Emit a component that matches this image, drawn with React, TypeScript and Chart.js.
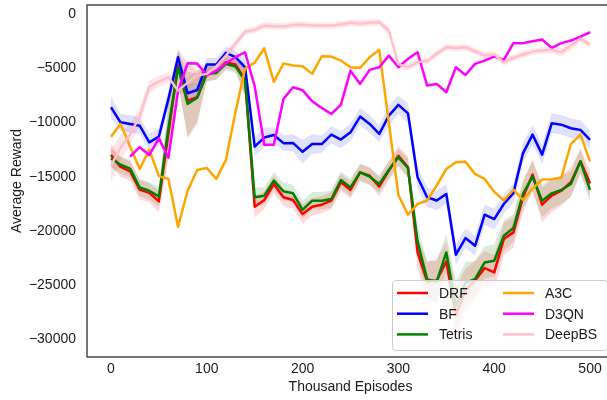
import React, { useEffect, useRef } from "react";
import { Chart, registerables } from "chart.js";

Chart.register(...registerables);

const episodes = [0, 10, 20, 30, 40, 50, 60, 70, 80, 90, 100, 110, 120, 130, 140, 150, 160, 170, 180, 190, 200, 210, 220, 230, 240, 250, 260, 270, 280, 290, 300, 310, 320, 330, 340, 350, 360, 370, 380, 390, 400, 410, 420, 430, 440, 450, 460, 470, 480, 490, 500];

const xTicks = [0, 100, 200, 300, 400, 500];
const yTicks = [0, -5000, -10000, -15000, -20000, -25000, -30000];

const drf = [-13000, -14100, -14500, -16200, -16500, -17280, -11000, -4720, -7960, -7650, -5400, -5300, -4410, -4630, -6000, -17780, -17160, -15680, -16910, -17160, -18460, -17780, -17590, -17220, -15520, -16230, -14600, -14910, -15930, -14440, -13060, -14140, -22000, -24700, -24600, -22850, -27800, -25500, -24600, -23460, -23860, -20770, -20150, -16910, -14810, -17590, -16760, -16300, -15520, -13580, -15620];
const bf = [-8580, -9970, -10120, -10280, -11820, -11300, -7800, -3950, -7280, -6980, -4630, -4630, -3550, -3950, -4880, -12220, -11380, -11150, -11900, -11880, -12700, -11980, -11980, -11110, -11570, -10900, -9440, -10120, -11050, -9350, -8360, -9140, -15060, -16900, -17200, -16600, -22220, -20680, -21390, -18520, -18920, -17530, -16520, -12840, -11110, -12960, -10060, -10190, -10520, -10680, -11600];
const tetris = [-13300, -13900, -14250, -16000, -16300, -16850, -10500, -4880, -8270, -7700, -5500, -5400, -4570, -4810, -6100, -16910, -16760, -15370, -16360, -16540, -18080, -17220, -17220, -17070, -15310, -15990, -14600, -15000, -15680, -14380, -13210, -14200, -21000, -24500, -24700, -22010, -27000, -24800, -24470, -22930, -22780, -20460, -19750, -16600, -15000, -17220, -16540, -16230, -15680, -13580, -16230];
const a3c = [-11300, -10120, -12200, -14290, -12500, -14950, -15210, -19630, -16300, -14380, -14200, -15200, -13450, -9000, -5000, -4450, -3120, -6230, -4540, -4720, -4780, -5490, -3860, -3890, -4260, -4880, -4940, -3950, -3270, -10000, -16700, -18520, -17530, -17200, -15800, -14290, -13670, -13610, -14750, -15210, -16400, -17200, -16200, -17160, -16100, -15260, -15230, -15090, -11980, -11110, -13580];
const d3qn = [null, null, -13150, -12270, -13000, -11460, -13240, -7100, -4510, -4540, -5600, -5220, -4510, -3950, -3490, -6650, -12040, -12040, -7810, -6730, -7000, -8030, -8640, -9200, -8330, -5190, -6420, -5120, -4880, -3800, -4880, -4100, -3490, -6570, -6420, -7190, -4880, -5590, -4570, -4260, -3890, -4200, -2650, -2650, -2470, -2310, -3090, -2650, -2410, -2040, -1640];
const deepbs = [-14000, -12300, -11100, -9400, -6700, -6200, -5800, -7040, -6300, -5650, -5490, -4800, -3800, -2700, -1600, -1420, -1020, -1110, -1110, -960, -930, -1020, -1020, -1020, -930, -770, -860, -770, -710, -1500, -4600, -4880, -4410, -4300, -3640, -3020, -3090, -3030, -3400, -3800, -3700, -4410, -4010, -3700, -3430, -3330, -3270, -3490, -2870, -2250, -2810];

// spread (shaded band half-widths)
const drfStd = [1000, 900, 900, 900, 900, 1000, 2500, 1500, 3500, 2500, 800, 700, 600, 600, 1500, 1000, 800, 800, 800, 800, 900, 800, 800, 800, 800, 800, 800, 800, 900, 900, 900, 1000, 1500, 1800, 2000, 1800, 2500, 2000, 1800, 1600, 1600, 1500, 1400, 1400, 1500, 1600, 1500, 1400, 1300, 1200, 1200];
const bfStd = [1000, 800, 800, 800, 800, 800, 800, 750, 800, 700, 600, 600, 600, 600, 700, 900, 900, 700, 700, 800, 1100, 900, 800, 800, 800, 800, 800, 800, 800, 900, 850, 900, 1000, 900, 900, 900, 950, 900, 900, 950, 950, 900, 900, 900, 900, 900, 900, 900, 900, 900, 900];
const tetrisStd = [900, 800, 800, 800, 800, 900, 2500, 1500, 3000, 2200, 700, 600, 600, 600, 1400, 900, 800, 800, 800, 800, 800, 800, 800, 800, 800, 800, 800, 800, 800, 800, 800, 900, 1400, 1700, 1900, 1700, 2300, 1900, 1700, 1500, 1500, 1400, 1300, 1300, 1400, 1500, 1400, 1300, 1200, 1100, 1100];
const deepbsStd = [1500, 1200, 1000, 800, 600, 500, 500, 500, 500, 500, 400, 400, 400, 400, 300, 300, 300, 300, 300, 300, 300, 300, 300, 300, 300, 300, 300, 300, 300, 400, 400, 300, 300, 300, 300, 300, 300, 300, 300, 300, 300, 300, 300, 300, 300, 300, 300, 400, 400, 300, 300];

const FONT = "'Liberation Sans', Arial, Helvetica, sans-serif";
const TEXT = "#1a1a1a";

const series = [
  { label: "DRF", data: drf, std: drfStd, color: "#ff0000", band: "rgba(255,0,0,0.15)" },
  { label: "BF", data: bf, std: bfStd, color: "#0000ff", band: "rgba(0,0,255,0.12)" },
  { label: "Tetris", data: tetris, std: tetrisStd, color: "#008000", band: "rgba(0,128,0,0.15)" },
  { label: "A3C", data: a3c, std: null, color: "#ffa500", band: null },
  { label: "D3QN", data: d3qn, std: null, color: "#ff00ff", band: null },
  { label: "DeepBS", data: deepbs, std: deepbsStd, color: "#ffc0cb", band: "rgba(255,182,193,0.35)" },
];

function points(ys: (number | null)[]) {
  return episodes.map((x, i) => ({ x, y: ys[i] }));
}
function bandPoints(ys: (number | null)[], sd: number[], sign: number) {
  return episodes.map((x, i) => ({ x, y: ys[i] === null ? null : (ys[i] as number) + sign * sd[i] }));
}

const frameAndLegend = {
  id: "frameAndLegend",
  afterDraw(chart: any) {
    const { ctx, chartArea } = chart;
    ctx.save();
    ctx.strokeStyle = "#262626";
    ctx.lineWidth = 1.25;
    ctx.strokeRect(chartArea.left, chartArea.top, chartArea.right - chartArea.left, chartArea.bottom - chartArea.top);

    const w = 215;
    const h = 70;
    const x0 = chartArea.right - 7 - w;
    const y0 = chartArea.bottom - 7 - h;
    ctx.beginPath();
    if (ctx.roundRect) ctx.roundRect(x0 + 0.5, y0 + 0.5, w, h, 3);
    else ctx.rect(x0 + 0.5, y0 + 0.5, w, h);
    ctx.fillStyle = "rgba(255,255,255,0.8)";
    ctx.fill();
    ctx.strokeStyle = "#cccccc";
    ctx.lineWidth = 1;
    ctx.stroke();

    series.forEach((s, i) => {
      const col = Math.floor(i / 3);
      const row = i % 3;
      const y = y0 + 13 + row * 20.7;
      const hx = x0 + 5 + col * 106;
      ctx.strokeStyle = s.color;
      ctx.lineWidth = 2.5;
      ctx.beginPath();
      ctx.moveTo(hx, y);
      ctx.lineTo(hx + 31, y);
      ctx.stroke();
      ctx.fillStyle = TEXT;
      ctx.font = `14px ${FONT}`;
      ctx.textBaseline = "middle";
      ctx.textAlign = "left";
      ctx.fillText(s.label, hx + 42, y + 1);
    });
    ctx.restore();
  },
};

export default function App() {
  const ref = useRef<HTMLCanvasElement | null>(null);

  useEffect(() => {
    if (!ref.current) return;
    const datasets: any[] = [];
    series.forEach((s, i) => {
      if (s.std && s.band) {
        datasets.push({
          label: s.label + " lower",
          data: bandPoints(s.data, s.std, -1),
          borderWidth: 0,
          pointRadius: 0,
          fill: false,
          order: 100 + i,
        });
        datasets.push({
          label: s.label + " upper",
          data: bandPoints(s.data, s.std, 1),
          borderWidth: 0,
          pointRadius: 0,
          backgroundColor: s.band,
          fill: "-1",
          order: 100 + i,
        });
      }
    });
    series.forEach((s, i) => {
      datasets.push({
        label: s.label,
        data: points(s.data),
        borderColor: s.color,
        backgroundColor: s.color,
        borderWidth: 2.5,
        pointRadius: 0,
        fill: false,
        tension: 0,
        borderJoinStyle: "round",
        borderCapStyle: "butt",
        order: 6 - i,
      });
    });

    const chart = new Chart(ref.current, {
      type: "line",
      data: { datasets },
      plugins: [frameAndLegend],
      options: {
        animation: false,
        responsive: false,
        devicePixelRatio: 1,
        layout: { padding: { left: 0, top: 5, right: 6, bottom: 0 } },
        plugins: { legend: { display: false }, tooltip: { enabled: false } },
        scales: {
          x: {
            type: "linear",
            min: -25,
            max: 525,
            grid: { display: false, drawTicks: false },
            border: { display: false },
            ticks: { padding: 4, color: TEXT, font: { family: FONT, size: 14 }, maxRotation: 0 },
            afterBuildTicks: (s: any) => {
              s.ticks = xTicks.map((v) => ({ value: v }));
            },
            afterFit: (s: any) => {
              s.height = 43;
              s.paddingLeft = 0;
              s.paddingRight = 0;
            },
            title: {
              display: true,
              text: "Thousand Episodes",
              color: TEXT,
              font: { family: FONT, size: 14 },
              padding: { top: 0, bottom: 4 },
            },
          },
          y: {
            type: "linear",
            min: -31680,
            max: 880,
            grid: { display: false, drawTicks: false },
            border: { display: false },
            ticks: {
              padding: 11,
              color: TEXT,
              font: { family: FONT, size: 14 },
              callback: (v: any) => (v === 0 ? "0" : "\u2212" + Math.abs(v)),
            },
            afterBuildTicks: (s: any) => {
              s.ticks = yTicks.map((v) => ({ value: v }));
            },
            afterFit: (s: any) => {
              s.width = 87;
              s.paddingTop = 0;
              s.paddingBottom = 0;
            },
            title: {
              display: true,
              text: "Average Reward",
              color: TEXT,
              font: { family: FONT, size: 14 },
              padding: { top: 9, bottom: 0 },
            },
          },
        },
      },
    });
    return () => chart.destroy();
  }, []);

  return (
    <div style={{ position: "fixed", left: 0, top: 0, width: 607, height: 400, overflow: "hidden", background: "#fff" }}>
      <canvas ref={ref} width={620} height={400} style={{ display: "block", width: 620, height: 400 }} />
    </div>
  );
}
